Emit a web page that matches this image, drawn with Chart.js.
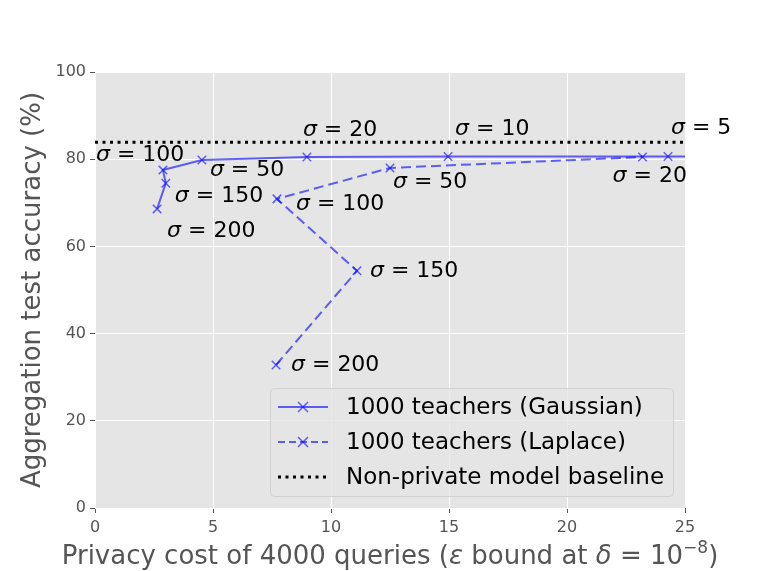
<!DOCTYPE html>
<html>
<head>
<meta charset="utf-8">
<script src="https://cdn.jsdelivr.net/npm/chart.js@4/dist/chart.umd.min.js"></script>
<style>
  html, body { margin: 0; padding: 0; background: #fff; }
  #wrap { width: 761px; height: 571px; }
</style>
</head>
<body>
<div id="wrap"><canvas id="chart"></canvas></div>
<script>
// Gaussian noise, sigma 200 -> 5 (last point runs off the right edge)
const gaussSigma = ['200', '150', '100', '50', '20', '10', '5', '']
const gaussEps = [2.63, 3.0, 2.88, 4.53, 8.98, 14.96, 24.28, 32]
const gaussAcc = [68.6, 74.5, 77.5, 79.8, 80.5, 80.6, 80.6, 80.7]

// Laplace noise, sigma 200 -> 20
const lapSigma = ['200', '150', '100', '50', '20']
const lapEps = [7.67, 11.1, 7.71, 12.5, 23.2]
const lapAcc = [32.8, 54.4, 70.9, 78.0, 80.5]

const baselineEps = [0, 25]
const baselineAcc = 83.9

const xTicks = [0, 5, 10, 15, 20, 25]
const yTicks = [0, 20, 40, 60, 80, 100]

// label offsets in px from each point (left edge, vertical middle)
const gaussOff = [[10, 22], [9, 13], [-67, -15], [8, 10], [-4, -27], [7, -27], [3, -28]]
const lapOff = [[15, 0], [13, 0], [19, 5], [3, 14], [-30, 19]]

// x title pieces: [text, italic, superscript]
const xTitle = [
	['Privacy cost of 4000 queries (', false, false],
	['ε', true, false],
	[' bound at ', false, false],
	['δ', true, false],
	[' = 10', false, false],
	['−8', false, true],
	[')', false, false]
]

const blue = 'rgba(0,0,255,0.6)'
const grey = '#555'
const font = 'DejaVu Sans'

const toPts = (xs, ys) => xs.map((x, i) => ({ x: x, y: Array.isArray(ys) ? ys[i] : ys }))

const sigmaLabels = {
	id: 'sigmaLabels',
	afterDatasetsDraw(chart) {
		const { ctx, scales: { x, y } } = chart
		ctx.save()
		ctx.fillStyle = '#000'
		ctx.textBaseline = 'middle'
		ctx.textAlign = 'left'
		const put = (xs, ys, sig, off) => {
			off.forEach((o, i) => {
				let px = x.getPixelForValue(xs[i]) + o[0]
				const py = y.getPixelForValue(ys[i]) + o[1]
				ctx.font = 'italic 22px ' + font
				ctx.fillText('σ', px, py)
				px += ctx.measureText('σ').width
				ctx.font = '22px ' + font
				ctx.fillText(' = ' + sig[i], px, py)
			})
		}
		put(gaussEps, gaussAcc, gaussSigma, gaussOff)
		put(lapEps, lapAcc, lapSigma, lapOff)
		ctx.restore()
	}
}

const xTitleDraw = {
	id: 'xTitleDraw',
	afterDraw(chart) {
		const { ctx, chartArea: a } = chart
		ctx.save()
		ctx.fillStyle = grey
		ctx.textBaseline = 'alphabetic'
		ctx.textAlign = 'left'
		const fontOf = p => (p[1] ? 'italic ' : '') + (p[2] ? '17px ' : '26px ') + font
		let total = 0
		xTitle.forEach(p => { ctx.font = fontOf(p); total += ctx.measureText(p[0]).width })
		let px = (a.left + a.right) / 2 - total / 2
		const base = 564
		xTitle.forEach(p => {
			ctx.font = fontOf(p)
			ctx.fillText(p[0], px, p[2] ? base - 11 : base)
			px += ctx.measureText(p[0]).width
		})
		ctx.restore()
	}
}

const plotBg = {
	id: 'plotBg',
	beforeDraw(chart) {
		const { ctx, chartArea: a } = chart
		ctx.save()
		ctx.fillStyle = '#e5e5e5'
		ctx.fillRect(a.left, a.top, a.right - a.left, a.bottom - a.top)
		ctx.restore()
	}
}

const boxLegend = {
	id: 'boxLegend',
	afterDraw(chart) {
		const { ctx } = chart
		const bx = 270, by = 388, bw = 403, bh = 108
		ctx.save()
		ctx.fillStyle = 'rgba(229,229,229,0.8)'
		ctx.strokeStyle = 'rgba(204,204,204,0.8)'
		ctx.lineWidth = 1
		ctx.beginPath()
		ctx.roundRect(bx + 0.5, by + 0.5, bw, bh, 4)
		ctx.fill()
		ctx.stroke()
		const rows = [
			{ text: '1000 teachers (Gaussian)', dash: [], color: blue, w: 2, mark: true },
			{ text: '1000 teachers (Laplace)', dash: [7, 4], color: blue, w: 2, mark: true },
			{ text: 'Non-private model baseline', dash: [3, 4.5], color: '#000', w: 3, mark: false }
		]
		rows.forEach((r, i) => {
			const cy = by + 19 + i * 35
			ctx.strokeStyle = r.color
			ctx.lineWidth = r.w
			ctx.setLineDash(r.dash)
			ctx.beginPath()
			ctx.moveTo(278, cy)
			ctx.lineTo(328, cy)
			ctx.stroke()
			ctx.setLineDash([])
			if (r.mark) {
				ctx.lineWidth = 1.5
				ctx.beginPath()
				ctx.moveTo(298, cy - 5); ctx.lineTo(308, cy + 5)
				ctx.moveTo(308, cy - 5); ctx.lineTo(298, cy + 5)
				ctx.stroke()
			}
			ctx.fillStyle = '#000'
			ctx.font = '23px ' + font
			ctx.textBaseline = 'middle'
			ctx.fillText(r.text, 346, cy + 1)
		})
		ctx.restore()
	}
}

new Chart(document.getElementById('chart'), {
	type: 'scatter',
	data: {
		datasets: [
			{
				label: '1000 teachers (Gaussian)',
				data: toPts(gaussEps, gaussAcc),
				showLine: true,
				borderColor: blue,
				borderWidth: 2,
				pointStyle: 'crossRot',
				pointRadius: 6,
				pointBorderWidth: 1.5,
				pointBorderColor: blue,
				pointBackgroundColor: blue
			},
			{
				label: '1000 teachers (Laplace)',
				data: toPts(lapEps, lapAcc),
				showLine: true,
				borderColor: blue,
				borderWidth: 2,
				borderDash: [10, 5],
				pointStyle: 'crossRot',
				pointRadius: 6,
				pointBorderWidth: 1.5,
				pointBorderColor: blue,
				pointBackgroundColor: blue
			},
			{
				label: 'Non-private model baseline',
				data: toPts(baselineEps, baselineAcc),
				showLine: true,
				borderColor: '#000',
				borderWidth: 3,
				borderDash: [3, 4.5],
				pointRadius: 0
			}
		]
	},
	options: {
		responsive: true,
		maintainAspectRatio: false,
		animation: false,
		layout: { padding: { left: 16, top: 72, right: 76, bottom: 0 } },
		plugins: {
			legend: { display: false },
			tooltip: { enabled: false }
		},
		scales: {
			x: {
				type: 'linear',
				min: 0, max: 25,
				afterBuildTicks: s => { s.ticks = xTicks.map(v => ({ value: v })) },
				afterFit: s => { s.height = 63 },
				grid: { color: '#fff', lineWidth: 1, tickColor: grey, tickLength: 5 },
				border: { display: false },
				ticks: { color: grey, font: { family: font, size: 16 }, padding: 5 },
				title: { display: false }
			},
			y: {
				min: 0, max: 100,
				afterBuildTicks: s => { s.ticks = yTicks.map(v => ({ value: v })) },
				afterFit: s => { s.width = 79 },
				grid: { color: '#fff', lineWidth: 1, tickColor: grey, tickLength: 5 },
				border: { display: false },
				ticks: { color: grey, font: { family: font, size: 16 }, padding: 4 },
				title: {
					display: true,
					text: 'Aggregation test accuracy (%)',
					color: grey,
					font: { family: font, size: 26 },
					padding: { top: 2, bottom: 0 }
				}
			}
		}
	},
	plugins: [plotBg, sigmaLabels, boxLegend, xTitleDraw]
})
</script>
</body>
</html>
